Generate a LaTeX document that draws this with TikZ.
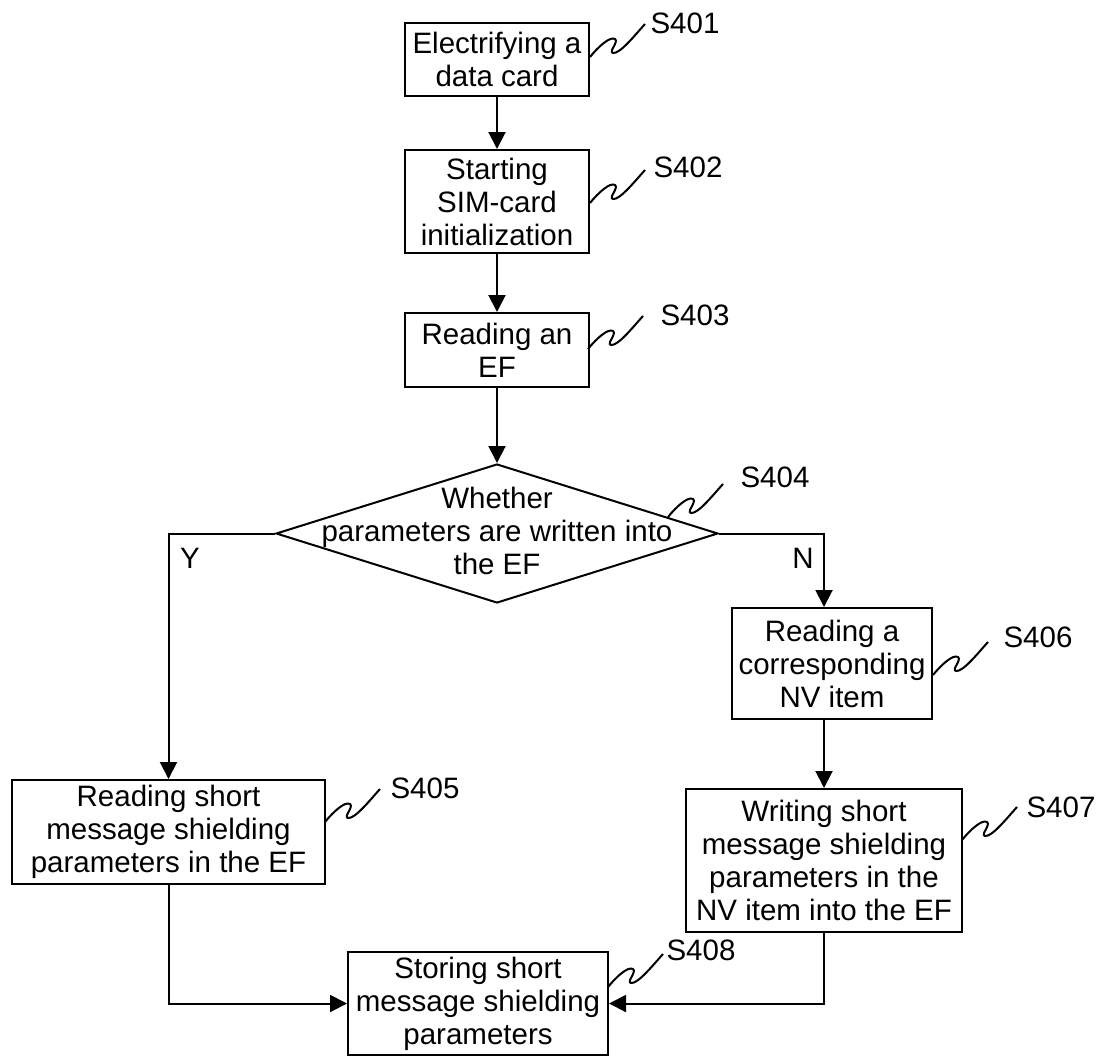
\documentclass[tikz,border=0pt]{standalone}
\usepackage{fontspec}
\setmainfont{Liberation Sans}
\usetikzlibrary{arrows.meta,calc,shapes.geometric}
\begin{document}
\begin{tikzpicture}[x=1pt,y=-1pt,
  txt/.style={font=\fontsize{29.5}{33}\selectfont},
  box/.style={txt, draw, line width=2pt, rectangle, align=center, inner sep=0pt},
  lbl/.style={txt, inner sep=0pt},
  arr/.style={line width=2pt, -{Triangle[width=17pt,length=17pt]}},
  sq/.pic={\draw[line width=2pt] (0,0) .. controls (8,-10) and (20,-21) .. (25,-18)
      .. controls (29,-15) and (18,-5) .. (23,-4) .. controls (30,-3) and (45,-22) .. (55,-33);}
]
\useasboundingbox (0,0) rectangle (1102,1057);

% boxes
\node[box, minimum width=184pt, minimum height=73pt] (s401) at (497,59.5) {Electrifying a\\data card};
\node[box, minimum width=184pt, minimum height=103pt] (s402) at (497,201.5) {Starting\\SIM-card\\initialization};
\node[box, minimum width=184pt, minimum height=74pt] (s403) at (497,350) {Reading an\\EF};
\node[diamond, draw, line width=2pt, minimum width=442pt, minimum height=139pt, inner sep=0pt] (dia) at (497,533.5) {};
\node[lbl, align=center] (diatext) at (497,531) {Whether\\parameters are written into\\the EF};
\node[box, minimum width=313pt, minimum height=104pt] (s405) at (168.5,832) {Reading short\\message shielding\\parameters in the EF};
\node[box, minimum width=200pt, minimum height=111pt] (s406) at (832,663.5) {Reading a\\corresponding\\NV item};
\node[box, minimum width=276pt, minimum height=143pt] (s407) at (824,860.5) {Writing short\\message shielding\\parameters in the\\NV item into the EF};
\node[box, minimum width=260pt, minimum height=103pt] (s408) at (478,1003.5) {Storing short\\message shielding\\parameters};

% connectors
\draw[arr] (s401) -- (s402);
\draw[arr] (s402) -- (s403);
\draw[arr] (s403) -- (dia.north);
\draw[arr] (dia.west) -| (s405.north);
\draw[arr] (dia.east) -| ($(s406.north)+(-8,0)$);
\draw[arr] ($(s406.south)+(-8,0)$) -- (s407.north);
\draw[arr] (s405.south) |- (s408.west);
\draw[arr] (s407.south) |- (s408.east);

% branch labels
\node[lbl] (ylbl) at (190,558) {Y};
\node[lbl] (nlbl) at (803,558) {N};

% step labels and squiggles
\node[lbl] (l401) at (685,23) {S401};
\node[lbl] (l402) at (688,167) {S402};
\node[lbl] (l403) at (695,315) {S403};
\node[lbl] (l404) at (775,477) {S404};
\node[lbl] (l405) at (425,788) {S405};
\node[lbl] (l406) at (1038,637) {S406};
\node[lbl] (l407) at (1061,807) {S407};
\node[lbl] (l408) at (701,950) {S408};

\pic at (590,57) {sq};
\pic at (590,203) {sq};
\pic at (588,349) {sq};
\pic at (668,517) {sq};
\pic at (325,822) {sq};
\pic at (933,675) {sq};
\pic at (962,840) {sq};
\pic at (608,987) {sq};
\end{tikzpicture}
\end{document}
